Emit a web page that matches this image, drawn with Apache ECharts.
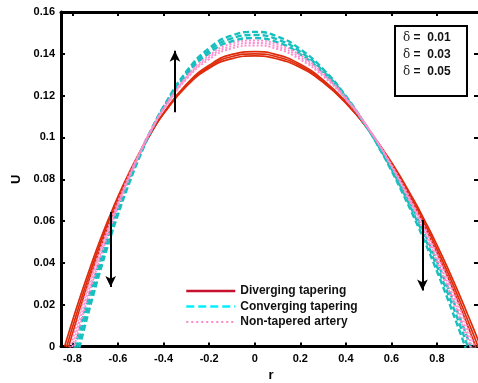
<!DOCTYPE html>
<html><head><meta charset="utf-8">
<script src="https://cdn.jsdelivr.net/npm/echarts@6/dist/echarts.min.js"></script>
<style>html,body{margin:0;padding:0;background:#fff}#c{width:478px;height:383px}</style>
</head><body><div id="c"></div>
<script>
// ---- data ----
const xTicks = [-0.8,-0.6,-0.4,-0.2,0,0.2,0.4,0.6,0.8];
const rRed = [-0.834,-0.825,-0.79,-0.76,-0.72,-0.68,-0.64,-0.6,-0.55,-0.5,-0.45,-0.4,-0.3,-0.2,-0.1,0,0.1,0.2,0.3,0.4,0.5,0.6,0.7,0.75,0.8,0.85,0.9,0.95,0.98,0.995];
const uRed1 = [0,0.0033,0.0157,0.0257,0.0384,0.0504,0.0614,0.0717,0.0834,0.0939,0.1033,0.1113,0.1244,0.1331,0.1377,0.1390,0.1375,0.1334,0.1263,0.1164,0.1037,0.0881,0.0697,0.0594,0.0485,0.0368,0.0243,0.0112,0.0031,-0.0012];
const uRed2 = [-0.0033,0,0.0127,0.0231,0.0362,0.0485,0.0599,0.0705,0.0826,0.0935,0.1031,0.1115,0.1249,0.1338,0.1387,0.1400,0.1385,0.1342,0.1269,0.1167,0.1036,0.0875,0.0686,0.0580,0.0467,0.0347,0.0219,0.0084,0,-0.0043];
const uRed3 = [-0.0066,-0.0033,0.0097,0.0205,0.0340,0.0466,0.0584,0.0693,0.0818,0.0931,0.1029,0.1117,0.1254,0.1345,0.1397,0.1410,0.1395,0.1350,0.1275,0.1170,0.1035,0.0869,0.0675,0.0566,0.0449,0.0326,0.0195,0.0056,-0.0031,-0.0074];
const rCyan = [-0.79,-0.778,-0.75,-0.72,-0.68,-0.64,-0.6,-0.55,-0.5,-0.45,-0.4,-0.3,-0.2,-0.1,0,0.1,0.2,0.3,0.4,0.5,0.55,0.6,0.65,0.7,0.75,0.8,0.85,0.9,0.935,0.95];
const uCyan1 = [-0.0007,0.0042,0.0153,0.0268,0.0410,0.0543,0.0667,0.0807,0.0934,0.1046,0.1143,0.1299,0.1403,0.1460,0.1475,0.1455,0.1398,0.1309,0.1188,0.1037,0.0950,0.0857,0.0755,0.0645,0.0529,0.0405,0.0276,0.0137,0.0037,-0.0008];
const uCyan2 = [-0.0049,0,0.0115,0.0234,0.0382,0.0520,0.0649,0.0795,0.0927,0.1043,0.1145,0.1307,0.1415,0.1474,0.1490,0.1469,0.1410,0.1318,0.1193,0.1036,0.0946,0.0849,0.0743,0.0630,0.0510,0.0382,0.0247,0.0104,0,-0.0045];
const uCyan3 = [-0.0091,-0.0042,0.0077,0.0200,0.0354,0.0497,0.0631,0.0783,0.0920,0.1040,0.1147,0.1315,0.1427,0.1488,0.1505,0.1483,0.1422,0.1327,0.1198,0.1035,0.0942,0.0841,0.0731,0.0615,0.0491,0.0359,0.0218,0.0071,-0.0037,-0.0082];
const rPink = [-0.81,-0.8,-0.77,-0.74,-0.7,-0.66,-0.62,-0.58,-0.54,-0.5,-0.45,-0.4,-0.3,-0.2,-0.1,0,0.1,0.2,0.3,0.4,0.5,0.6,0.7,0.75,0.8,0.85,0.9,0.955,0.97];
const uPink1 = [-0.0008,0.0031,0.0145,0.0254,0.0391,0.0518,0.0636,0.0746,0.0847,0.0940,0.1044,0.1133,0.1278,0.1374,0.1426,0.1440,0.1423,0.1373,0.1293,0.1182,0.1041,0.0869,0.0670,0.0560,0.0441,0.0316,0.0183,0.0028,-0.0016];
const uPink2 = [-0.0039,0,0.0117,0.0229,0.0370,0.0501,0.0623,0.0736,0.0840,0.0936,0.1043,0.1136,0.1284,0.1383,0.1437,0.1452,0.1434,0.1383,0.1300,0.1186,0.1041,0.0865,0.0660,0.0546,0.0424,0.0295,0.0159,0,-0.0044];
const uPink3 = [-0.0070,-0.0031,0.0089,0.0204,0.0349,0.0484,0.0610,0.0726,0.0833,0.0932,0.1042,0.1139,0.1290,0.1392,0.1449,0.1464,0.1445,0.1393,0.1307,0.1190,0.1041,0.0861,0.0650,0.0532,0.0407,0.0274,0.0135,-0.0028,-0.0072];
const seriesNames = ['Diverging tapering','Converging tapering','Non-tapered artery'];
const deltaLabels = ['0.01','0.03','0.05'];
// arrows: [r, Ustart] -> [r, Uend]
const arrows = [[[-0.35,0.1121],[-0.35,0.1415]],[[-0.632,0.0643],[-0.632,0.0285]],[[0.736,0.0605],[0.736,0.0268]]];

const pair = (r,u)=>r.map((x,i)=>[x,u[i]]);
const FONT = '"Liberation Sans", Arial, sans-serif';
const RED = '#de2c0c', CYAN = '#17bfbf', PINK = '#ff8fcf';

function mk(name, r, u, color, type, width, z){
  return {name, type:'line', data:pair(r,u), symbol:'none', showSymbol:false, smooth:0.5, z, clip:true,
    lineStyle:{color, width, type}, itemStyle:{color}, animation:false};
}
const series = [
  mk(seriesNames[0], rRed, uRed1, RED, 'solid', 1.7, 2),
  mk(seriesNames[0], rRed, uRed2, RED, 'solid', 1.7, 2),
  mk(seriesNames[0], rRed, uRed3, RED, 'solid', 1.7, 2),
  mk(seriesNames[1], rCyan, uCyan1, CYAN, [6,3], 2.4, 3),
  mk(seriesNames[1], rCyan, uCyan2, CYAN, [6,3], 2.4, 3),
  mk(seriesNames[1], rCyan, uCyan3, CYAN, [6,3], 2.4, 3),
  mk(seriesNames[2], rPink, uPink1, PINK, [2,2], 2, 4),
  mk(seriesNames[2], rPink, uPink2, PINK, [2,2], 2, 4),
  mk(seriesNames[2], rPink, uPink3, PINK, [2,2], 2, 4),
];
series[0].markLine = {silent:true, symbol:['none','arrow'], symbolSize:[8,11], animation:false,
  label:{show:false}, lineStyle:{color:'#000', width:2, type:'solid'},
  data: arrows.map(a=>[{coord:a[0]},{coord:a[1]}])};

const chart = echarts.init(document.getElementById('c'), null, {renderer:'canvas'});
const axisLbl = {fontFamily:FONT, fontWeight:'bold', fontSize:11, color:'#000'};
chart.setOption({
  animation:false,
  backgroundColor:'#fff',
  grid:{left:61, top:12, width:420, height:334.5, containLabel:false, outerBoundsMode:'none'},
  legend:{
    orient:'vertical', left:180, top:280, itemWidth:49, itemHeight:12, itemGap:3.5,
    textStyle:{fontFamily:FONT, fontWeight:'bold', fontSize:12, color:'#111'},
    data:[
      {name:seriesNames[0], itemStyle:{opacity:0}, lineStyle:{color:'#c8102e', width:2.5, type:'solid'}},
      {name:seriesNames[1], itemStyle:{opacity:0}, lineStyle:{color:'#00f0ff', width:2.5, type:[8,4]}},
      {name:seriesNames[2], itemStyle:{opacity:0}, lineStyle:{color:'#ff88cc', width:2, type:[2,3]}}
    ]
  },
  xAxis:[{
    type:'value', min:-0.85, max:0.993, position:'bottom',
    name:'r', nameLocation:'middle', nameGap:20,
    nameTextStyle:{fontFamily:FONT, fontWeight:'bold', fontSize:13, color:'#000'},
    axisLine:{show:true, onZero:false, lineStyle:{color:'#000', width:3}},
    axisTick:{show:true, inside:true, length:4, customValues:xTicks, lineStyle:{color:'#000', width:2}},
    axisLabel:{...axisLbl, margin:7, customValues:xTicks},
    splitLine:{show:false}
  },{
    type:'value', min:-0.85, max:0.993, position:'top',
    axisLine:{show:true, onZero:false, lineStyle:{color:'#000', width:3}},
    axisTick:{show:true, inside:true, length:4, customValues:xTicks, lineStyle:{color:'#000', width:2}},
    axisLabel:{show:false}, splitLine:{show:false}
  }],
  yAxis:[{
    type:'value', min:0, max:0.16, interval:0.02, position:'left',
    name:'U', nameLocation:'middle', nameGap:36, nameRotate:90,
    nameTextStyle:{fontFamily:FONT, fontWeight:'bold', fontSize:13, color:'#000'},
    axisLine:{show:true, onZero:false, lineStyle:{color:'#000', width:3}},
    axisTick:{show:true, inside:true, length:4, lineStyle:{color:'#000', width:2}},
    axisLabel:{...axisLbl, margin:6},
    splitLine:{show:false}
  },{
    type:'value', min:0, max:0.16, interval:0.02, position:'right',
    axisLine:{show:true, onZero:false, lineStyle:{color:'#000', width:3}},
    axisTick:{show:true, inside:true, length:7, lineStyle:{color:'#000', width:2}},
    axisLabel:{show:false}, splitLine:{show:false}
  }],
  graphic:[{
    type:'group', left:394, top:25,
    children:[
      {type:'rect', shape:{x:0,y:0,width:72,height:70}, style:{fill:'#fff', stroke:'#000', lineWidth:2}},
      ...deltaLabels.map((d,i)=>({type:'text', x:8, y:6+i*17,
        style:{text:'{a|δ} {b|=  '+d+'}', rich:{
          a:{fontFamily:'"DejaVu Serif", "Liberation Serif", serif', fontSize:12, fill:'#222'},
          b:{fontFamily:FONT, fontWeight:'bold', fontSize:12, fill:'#111'}}}}))
    ]
  }],
  series
});
</script></body></html>
